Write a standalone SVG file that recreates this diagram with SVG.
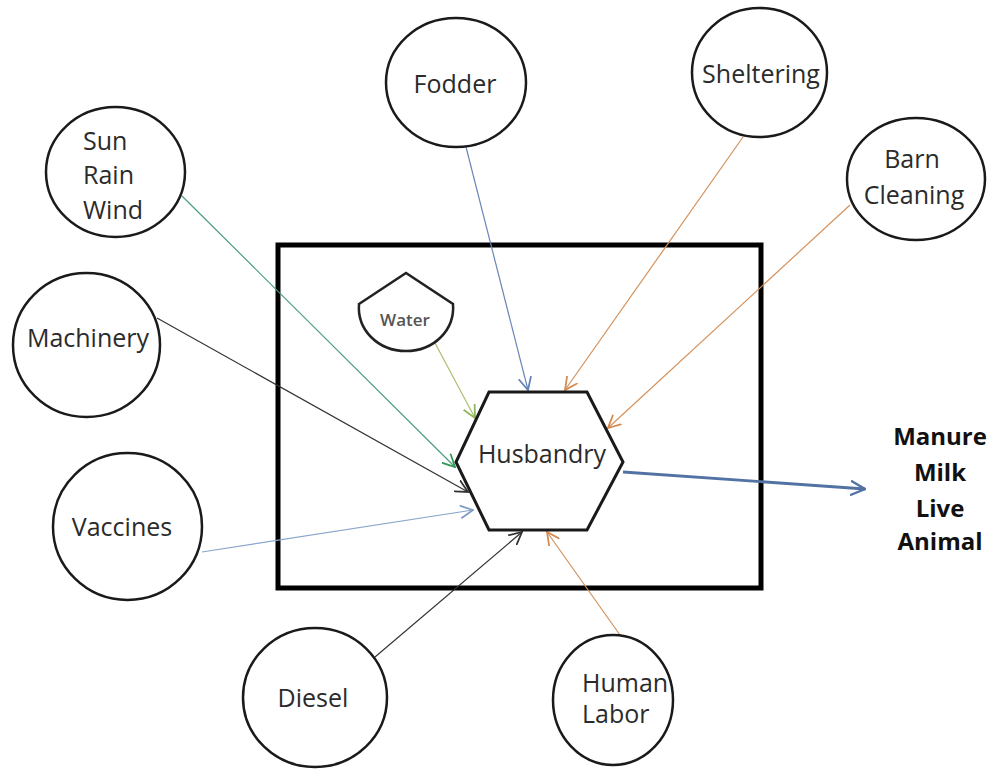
<svg xmlns="http://www.w3.org/2000/svg" width="990" height="769" viewBox="0 0 990 769">
<style>
.node{fill:#fff;stroke:#1a1a1a;stroke-width:2.5}
.lbl{font-family:"Open Sans","Liberation Sans",sans-serif;font-size:25px;fill:#2b2b2b}
.c{text-anchor:middle}
.out{font-family:"Open Sans","Liberation Sans",sans-serif;font-size:24px;font-weight:bold;fill:#111;text-anchor:middle}
.ln{fill:none;stroke-width:1.2}
</style>
<defs>
<marker id="aGreen" markerWidth="14" markerHeight="14" refX="10" refY="5" orient="auto" markerUnits="userSpaceOnUse" viewBox="0 0 11 10"><path d="M0,0 L10,5 L0,10" fill="none" stroke="#2f9a55" stroke-width="1.4"/></marker>
<marker id="aBlack" markerWidth="14" markerHeight="14" refX="10" refY="5" orient="auto" markerUnits="userSpaceOnUse" viewBox="0 0 11 10"><path d="M0,0 L10,5 L0,10" fill="none" stroke="#333" stroke-width="1.4"/></marker>
<marker id="aOlive" markerWidth="14" markerHeight="14" refX="10" refY="5" orient="auto" markerUnits="userSpaceOnUse" viewBox="0 0 11 10"><path d="M0,0 L10,5 L0,10" fill="none" stroke="#8fb55a" stroke-width="1.4"/></marker>
<marker id="aLBlue" markerWidth="14" markerHeight="14" refX="10" refY="5" orient="auto" markerUnits="userSpaceOnUse" viewBox="0 0 11 10"><path d="M0,0 L10,5 L0,10" fill="none" stroke="#7f9cc8" stroke-width="1.4"/></marker>
<marker id="aBlue" markerWidth="14" markerHeight="14" refX="10" refY="5" orient="auto" markerUnits="userSpaceOnUse" viewBox="0 0 11 10"><path d="M0,0 L10,5 L0,10" fill="none" stroke="#6482b8" stroke-width="1.4"/></marker>
<marker id="aOrange" markerWidth="14" markerHeight="14" refX="10" refY="5" orient="auto" markerUnits="userSpaceOnUse" viewBox="0 0 11 10"><path d="M0,0 L10,5 L0,10" fill="none" stroke="#d48a50" stroke-width="1.4"/></marker>
<marker id="aOut" markerWidth="16" markerHeight="16" refX="10" refY="5" orient="auto" markerUnits="userSpaceOnUse" viewBox="0 0 11 10"><path d="M0,0 L10,5 L0,10" fill="none" stroke="#5272a4" stroke-width="1.6"/></marker>
</defs>
<rect width="990" height="769" fill="#fff"/>
<g id="boundary"><rect x="278" y="245" width="483" height="343" fill="none" stroke="#000" stroke-width="5"/></g>
<g id="connectors">
<line class="ln" x1="182" y1="196" x2="455" y2="467" stroke="#4a9e7c" marker-end="url(#aGreen)"/>
<line class="ln" x1="157" y1="318" x2="468" y2="492" stroke="#333" marker-end="url(#aBlack)"/>
<line class="ln" x1="435" y1="343" x2="475" y2="418" stroke="#a8bf6e" marker-end="url(#aOlive)"/>
<line class="ln" x1="202" y1="552" x2="473" y2="510" stroke="#8aa6cc" marker-end="url(#aLBlue)"/>
<line class="ln" x1="466" y1="147" x2="528" y2="390" stroke="#6a86b8" marker-end="url(#aBlue)"/>
<line class="ln" x1="743" y1="137" x2="565" y2="390" stroke="#d4915a" marker-end="url(#aOrange)"/>
<line class="ln" x1="850" y1="205" x2="608" y2="428" stroke="#d4915a" marker-end="url(#aOrange)"/>
<line class="ln" x1="375" y1="657" x2="522" y2="532" stroke="#333" marker-end="url(#aBlack)"/>
<line class="ln" x1="620" y1="635" x2="547" y2="532" stroke="#d4915a" marker-end="url(#aOrange)"/>
<line x1="623" y1="472" x2="865" y2="489" fill="none" stroke="#5272a4" stroke-width="2.8" marker-end="url(#aOut)"/>
</g>
<g id="husbandry">
<polygon points="489,392 587,392 623,462 587,530 489,530 456,462" fill="#fff" stroke="#1a1a1a" stroke-width="3"/>
<text class="lbl c" x="542" y="463">Husbandry</text>
</g>
<g id="water">
<path d="M359,304 L406,273 L453,304 C455,330 434,351 406,351 C378,351 357,330 359,304 Z" fill="#fff" stroke="#222" stroke-width="2.5"/>
<text x="405" y="326" font-family="'Open Sans','Liberation Sans',sans-serif" font-size="17" font-weight="600" fill="#555" text-anchor="middle">Water</text>
</g>
<g id="fodder"><ellipse class="node" cx="456" cy="82.5" rx="70" ry="64.5"/><text class="lbl c" x="455" y="93">Fodder</text></g>
<g id="sheltering"><ellipse class="node" cx="759.5" cy="72.5" rx="67.5" ry="64.5"/><text class="lbl c" x="761" y="83">Sheltering</text></g>
<g id="barn-cleaning"><ellipse class="node" cx="916" cy="179" rx="69" ry="61"/><text class="lbl c" x="912" y="168">Barn</text><text class="lbl c" x="914" y="204">Cleaning</text></g>
<g id="sun-rain-wind"><ellipse class="node" cx="115.5" cy="172" rx="69.5" ry="65"/><text class="lbl" x="83" y="150">Sun</text><text class="lbl" x="83" y="184">Rain</text><text class="lbl" x="83" y="219">Wind</text></g>
<g id="machinery"><ellipse class="node" cx="86.5" cy="345" rx="73.5" ry="72"/><text class="lbl c" x="88" y="347">Machinery</text></g>
<g id="vaccines"><ellipse class="node" cx="127.5" cy="526.5" rx="74.5" ry="73.5"/><text class="lbl c" x="122" y="536">Vaccines</text></g>
<g id="diesel"><ellipse class="node" cx="315" cy="697.5" rx="72" ry="69.5"/><text class="lbl c" x="313" y="707">Diesel</text></g>
<g id="human-labor"><ellipse class="node" cx="613" cy="700" rx="60" ry="65"/><text class="lbl" x="582" y="692">Human</text><text class="lbl" x="582" y="723">Labor</text></g>
<g id="outputs"><text class="out" x="940" y="445">Manure</text><text class="out" x="940" y="481">Milk</text><text class="out" x="940" y="517">Live</text><text class="out" x="940" y="550">Animal</text></g>
</svg>
